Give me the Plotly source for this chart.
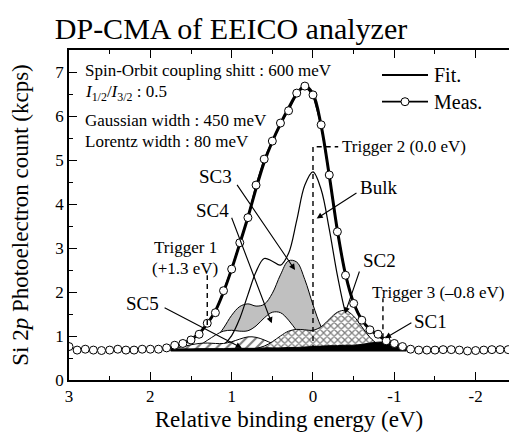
import plotly.graph_objects as go

# ---------------- data ----------------
meas_x = [round(3.0 - 0.1 * i, 1) for i in range(55)]
meas_y = [0.76, 0.68, 0.70, 0.68, 0.67, 0.68, 0.70, 0.68, 0.68, 0.70, 0.70, 0.70, 0.73,
          0.79, 0.83, 0.91, 1.04, 1.29, 1.53, 2.03, 2.52, 3.12, 3.69, 4.43, 5.02, 5.43,
          5.84, 6.12, 6.52, 6.68,
          6.48, 5.80, 4.66, 3.37, 2.38, 1.74, 1.36, 1.14, 1.04, 0.89, 0.83, 0.76, 0.70,
          0.68, 0.68, 0.68, 0.69, 0.69, 0.68, 0.66, 0.67, 0.68, 0.69, 0.69, 0.69]

fit_x = [1.75, 1.7, 1.6, 1.5, 1.4, 1.3, 1.2, 1.1, 1.0, 0.9, 0.8, 0.7, 0.6, 0.5, 0.4, 0.3,
         0.2, 0.1, 0.0, -0.1, -0.2, -0.3, -0.4, -0.5, -0.6, -0.7, -0.8, -0.9, -1.0, -1.1, -1.15]
fit_y = [0.74, 0.77, 0.83, 0.92, 1.06, 1.28, 1.57, 2.00, 2.52, 3.10, 3.70, 4.35, 4.95, 5.42,
         5.82, 6.18, 6.50, 6.68, 6.50, 5.78, 4.65, 3.40, 2.40, 1.75, 1.37, 1.15, 1.02, 0.90,
         0.82, 0.75, 0.72]

BASELINE = 0.68

bulk_y = [0.68, 0.68, 0.68, 0.68, 0.69, 0.69, 0.72, 0.80, 1.01, 1.40, 1.94, 2.46, 2.76, 2.70,
          2.61, 2.88, 3.63, 4.43, 4.73, 4.33, 3.43, 2.38, 1.53, 1.03, 0.80, 0.72, 0.69, 0.68,
          0.68, 0.68, 0.68]
sc3_y = [0.68, 0.68, 0.68, 0.69, 0.72, 0.79, 0.94, 1.18, 1.47, 1.67, 1.73, 1.68, 1.72, 1.97,
         2.39, 2.71, 2.68, 2.28, 1.71, 1.21, 0.90, 0.75, 0.70, 0.68, 0.68, 0.68, 0.68, 0.68,
         0.68, 0.68, 0.68]
sc4_y = [0.68, 0.68, 0.70, 0.73, 0.79, 0.90, 1.02, 1.11, 1.13, 1.11, 1.12, 1.23, 1.41, 1.54,
         1.53, 1.36, 1.12, 0.91, 0.77, 0.71, 0.69, 0.68, 0.68, 0.68, 0.68, 0.68, 0.68, 0.68,
         0.68, 0.68, 0.68]
sc5_y = [0.71, 0.72, 0.76, 0.80, 0.83, 0.84, 0.83, 0.83, 0.87, 0.93, 0.98, 0.97, 0.91, 0.83,
         0.76, 0.71, 0.69, 0.68, 0.68, 0.68, 0.68, 0.68, 0.68, 0.68, 0.68, 0.68, 0.68, 0.68,
         0.68, 0.68, 0.68]
sc2_y = [0.68, 0.68, 0.68, 0.68, 0.68, 0.68, 0.68, 0.68, 0.68, 0.68, 0.69, 0.72, 0.77, 0.87,
         1.00, 1.11, 1.15, 1.14, 1.13, 1.21, 1.38, 1.54, 1.58, 1.45, 1.21, 0.97, 0.81, 0.73,
         0.69, 0.68, 0.68]
sc1_y = [0.70, 0.70, 0.70, 0.70, 0.71, 0.71, 0.71, 0.71, 0.72, 0.72, 0.72, 0.72, 0.73, 0.73,
         0.73, 0.74, 0.74, 0.75, 0.76, 0.77, 0.78, 0.78, 0.79, 0.79, 0.81, 0.84, 0.86, 0.86,
         0.82, 0.76, 0.71]

x_tickvals = [3, 2, 1, 0, -1, -2]
x_ticktext = ["3", "2", "1", "0", "-1", "-2"]
y_tickvals = [0, 1, 2, 3, 4, 5, 6, 7]

# triggers: energy, dashed segment (y from, y to)
trig1 = (1.3, 1.25, 2.38)
trig2 = (0.0, 0.68, 5.30)
trig3 = (-0.86, 0.95, 1.86)

FONT = "Liberation Serif, Times New Roman, serif"
GRAY = "#c0c0c0"

fig = go.Figure()
base = [BASELINE] * len(fit_x)


def add_base():
    fig.add_trace(go.Scatter(x=fit_x, y=base, mode="lines", line=dict(width=0, color="black"),
                             hoverinfo="skip", showlegend=False))


# SC3 (gray)
add_base()
fig.add_trace(go.Scatter(x=fit_x, y=sc3_y, mode="lines", line=dict(color="black", width=1, shape="spline"),
                         fill="tonexty", fillcolor=GRAY, showlegend=False))
# SC4 (white)
add_base()
fig.add_trace(go.Scatter(x=fit_x, y=sc4_y, mode="lines", line=dict(color="black", width=1, shape="spline"),
                         fill="tonexty", fillcolor="white", showlegend=False))
# Bulk (line only)
fig.add_trace(go.Scatter(x=fit_x, y=bulk_y, mode="lines", line=dict(color="black", width=1.2, shape="spline"),
                         showlegend=False))
# SC5 (diagonal hatch)
add_base()
fig.add_trace(go.Scatter(x=fit_x, y=sc5_y, mode="lines", line=dict(color="black", width=1, shape="spline"),
                         fill="tonexty", fillcolor="white",
                         fillpattern=dict(shape="/", fgcolor="black", bgcolor="white", size=7, solidity=0.3),
                         showlegend=False))
# SC2 (cross hatch)
add_base()
fig.add_trace(go.Scatter(x=fit_x, y=sc2_y, mode="lines", line=dict(color="black", width=1, shape="spline"),
                         fill="tonexty", fillcolor="white",
                         fillpattern=dict(shape="x", fgcolor="black", bgcolor="white", size=5, solidity=0.45),
                         showlegend=False))
# SC1 (black)
add_base()
fig.add_trace(go.Scatter(x=fit_x, y=sc1_y, mode="lines", line=dict(color="black", width=1, shape="spline"),
                         fill="tonexty", fillcolor="black", showlegend=False))
# baseline
fig.add_trace(go.Scatter(x=fit_x, y=base, mode="lines", line=dict(color="black", width=3),
                         showlegend=False))
# Fit
fig.add_trace(go.Scatter(x=fit_x, y=fit_y, mode="lines", line=dict(color="black", width=3, shape="spline"),
                         showlegend=False))
# Measured
fig.add_trace(go.Scatter(x=meas_x, y=meas_y, mode="lines+markers",
                         line=dict(color="black", width=1.5),
                         marker=dict(symbol="circle", size=8, color="white", line=dict(color="black", width=1)),
                         showlegend=False))

# trigger dashed lines
dash_style = dict(color="black", width=1.4, dash="5px,4px")
fig.add_shape(type="line", xref="x", yref="y", x0=trig1[0], x1=trig1[0], y0=trig1[1], y1=trig1[2], line=dash_style)
fig.add_shape(type="path", xref="x", yref="y",
              path=f"M {trig2[0]},{trig2[1]} L {trig2[0]},{trig2[2]} L -0.31,{trig2[2]}", line=dash_style)
fig.add_shape(type="line", xref="x", yref="y", x0=trig3[0], x1=trig3[0], y0=trig3[1], y1=trig3[2], line=dash_style)

ann_font = dict(family=FONT, size=19, color="black")
small_font = dict(family=FONT, size=17, color="black")

# labels with arrows: (text, text x, text y, tail x, tail y, tip x, tip y)
labels = [
    ("SC3", 1.20, 4.63, 0.946, 4.47, 0.221, 2.50),
    ("SC4", 1.24, 3.86, 1.007, 3.72, 0.507, 1.29),
    ("Bulk", -0.81, 4.38, -0.553, 4.27, -0.045, 3.67),
    ("SC2", -0.82, 2.72, -0.577, 2.50, -0.393, 1.51),
    ("SC1", -1.45, 1.34, -1.228, 1.32, -0.885, 0.95),
    ("SC5", 2.10, 1.75, 1.843, 1.66, 0.876, 0.73),
]
for t, tx, ty, ax, ay, px, py in labels:
    fig.add_annotation(x=tx, y=ty, xref="x", yref="y", text=t, showarrow=False, font=ann_font,
                       xanchor="center", yanchor="middle")
    fig.add_annotation(x=px, y=py, xref="x", yref="y", ax=ax, ay=ay, axref="x", ayref="y",
                       text="", showarrow=True, arrowhead=2, arrowsize=1.1, arrowwidth=1.1,
                       arrowcolor="black", standoff=0, startstandoff=0)

# trigger texts
fig.add_annotation(x=1.57, y=3.02, xref="x", yref="y", text="Trigger 1", showarrow=False, font=small_font,
                   xanchor="center", yanchor="middle")
fig.add_annotation(x=1.57, y=2.54, xref="x", yref="y", text="(+1.3 eV)", showarrow=False, font=small_font,
                   xanchor="center", yanchor="middle")
fig.add_annotation(x=-0.33, y=5.30, xref="x", yref="y", text="Trigger 2 (0.0 eV)", showarrow=False,
                   xanchor="left", yanchor="middle", font=small_font)
fig.add_annotation(x=-0.70, y=2.00, xref="x", yref="y", text="Trigger 3 (\u20130.8 eV)", showarrow=False,
                   xanchor="left", yanchor="middle", font=small_font)

# parameter text block
info = [
    ("Spin-Orbit coupling shitt : 600 meV", 7.04),
    ("<i>I</i><sub>1/2</sub>/<i>I</i><sub>3/2</sub> : 0.5", 6.52),
    ("Gaussian width : 450 meV", 5.90),
    ("Lorentz width : 80 meV", 5.43),
]
for t, yy in info:
    fig.add_annotation(x=2.83, y=yy, xref="x", yref="y", text=t, showarrow=False, xanchor="left",
                       yanchor="middle", font=small_font)


# manual legend (paper coords)
def px_to_paper_x(px):
    return (px - 69) / 440.0


def py_to_paper_y(py):
    return (380 - py) / 330.0


leg_y1 = py_to_paper_y(75)
leg_y2 = py_to_paper_y(101.7)
fig.add_shape(type="line", xref="paper", yref="paper", x0=px_to_paper_x(382), x1=px_to_paper_x(428),
              y0=leg_y1, y1=leg_y1, line=dict(color="black", width=1.8))
fig.add_shape(type="line", xref="paper", yref="paper", x0=px_to_paper_x(382), x1=px_to_paper_x(428),
              y0=leg_y2, y1=leg_y2, line=dict(color="black", width=1.8))
fig.add_shape(type="circle", xref="paper", yref="paper", xsizemode="pixel", ysizemode="pixel",
              xanchor=px_to_paper_x(405), yanchor=leg_y2, x0=-4, x1=4, y0=-4, y1=4,
              line=dict(color="black", width=1), fillcolor="white")
leg_font = dict(family=FONT, size=20, color="black")
fig.add_annotation(x=px_to_paper_x(432), y=leg_y1, xref="paper", yref="paper", text="Fit.",
                   showarrow=False, xanchor="left", yanchor="middle", font=leg_font)
fig.add_annotation(x=px_to_paper_x(432), y=leg_y2, xref="paper", yref="paper", text="Meas.",
                   showarrow=False, xanchor="left", yanchor="middle", font=leg_font)

fig.update_layout(
    width=509, height=434,
    margin=dict(l=69, r=0, t=50, b=54),
    paper_bgcolor="white", plot_bgcolor="white",
    font=dict(family=FONT, color="black"),
    title=dict(text="DP-CMA of EEICO analyzer", x=231 / 509, xref="container", xanchor="center",
               y=1 - 28 / 434, yref="container", yanchor="middle",
               font=dict(family=FONT, size=30, color="black")),
    showlegend=False,
    hovermode=False,
    xaxis=dict(range=[3, -2.41], tickvals=x_tickvals, ticktext=x_ticktext, ticks="inside", ticklen=8,
               tickwidth=1, tickcolor="black", showline=True, linecolor="black", linewidth=1.5,
               mirror="ticks", showgrid=False, zeroline=False,
               minor=dict(tickvals=[2.5, 1.5, 0.5, -0.5, -1.5], ticks="inside", ticklen=4, tickcolor="black"),
               tickfont=dict(family=FONT, size=17, color="black"),
               title=dict(text="Relative binding energy (eV)", standoff=6,
                          font=dict(family=FONT, size=23, color="black")),
               automargin=False),
    yaxis=dict(range=[0, 7.5], tickvals=y_tickvals, ticks="inside", ticklen=8, tickwidth=1,
               tickcolor="black", showline=True, linecolor="black", linewidth=1.5, mirror=False,
               showgrid=False, zeroline=False,
               minor=dict(dtick=0.5, ticks="inside", ticklen=4, tickcolor="black"),
               tickfont=dict(family=FONT, size=17, color="black"),
               title=dict(text="Si 2<i>p</i> Photoelectron count (kcps)", standoff=20,
                          font=dict(family=FONT, size=23, color="black")),
               automargin=False),
)

fig.write_html("out.html", config={"displayModeBar": False},
               post_script="document.body.style.margin='0';document.body.style.padding='0';")
